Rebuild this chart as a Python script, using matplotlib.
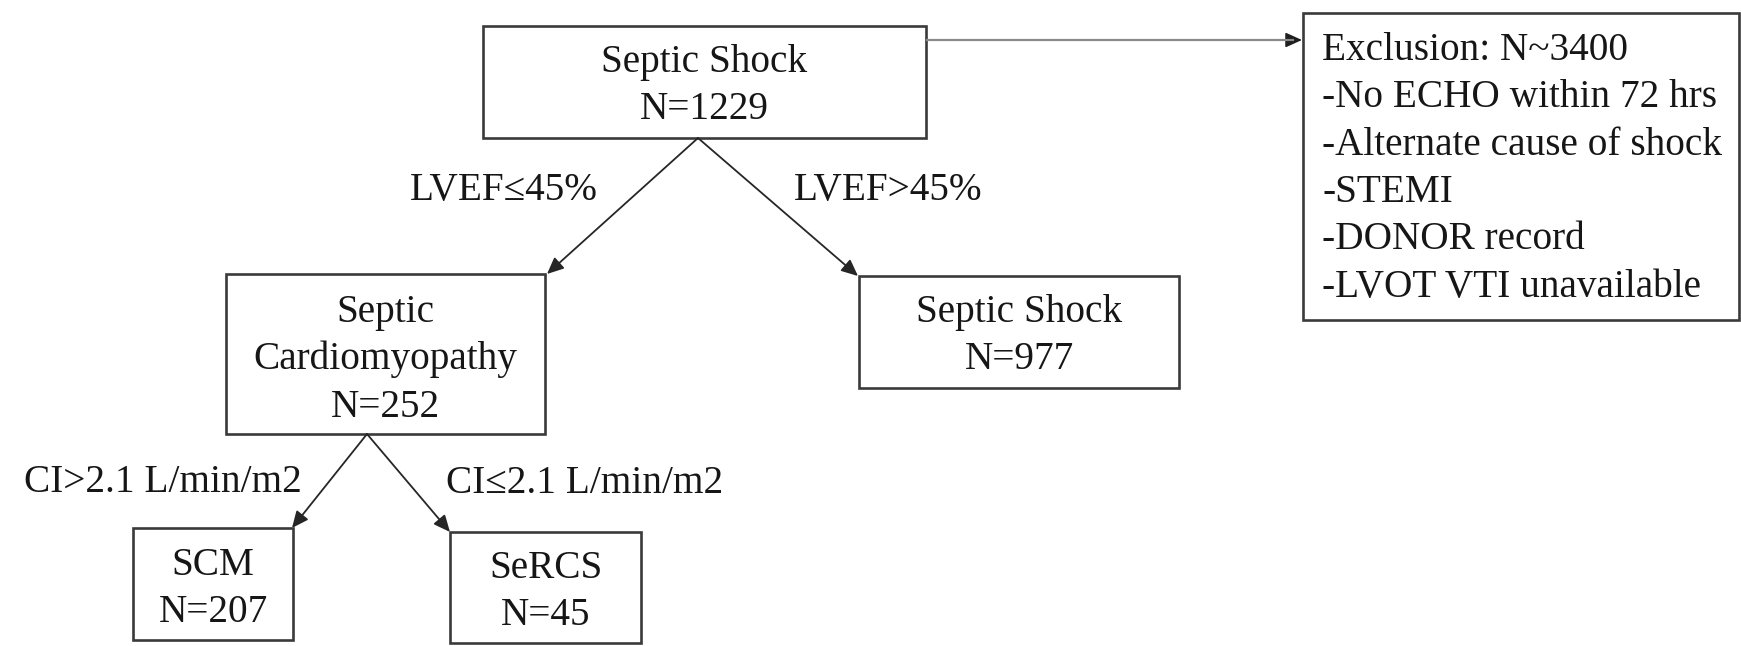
import matplotlib
matplotlib.use("Agg")
import matplotlib.pyplot as plt
from matplotlib.patches import Rectangle, FancyArrowPatch

# ---- content ----
top_lines = ["Septic Shock", "N=1229"]
cardio_lines = ["Septic", "Cardiomyopathy", "N=252"]
shock_lines = ["Septic Shock", "N=977"]
scm_lines = ["SCM", "N=207"]
sercs_lines = ["SeRCS", "N=45"]
excl_lines = ["Exclusion: N~3400", "-No ECHO within 72 hrs", "-Alternate cause of shock",
              "-STEMI", "-DONOR record", "-LVOT VTI unavailable"]
branch_labels = ["LVEF\u226445%", "LVEF>45%", "CI>2.1 L/min/m2", "CI\u22642.1 L/min/m2"]

W, H = 1741, 646
fig = plt.figure(figsize=(W / 100, H / 100), dpi=100)
ax = fig.add_axes([0, 0, 1, 1])
ax.set_xlim(0, W)
ax.set_ylim(H, 0)
ax.axis("off")

FONT = ["Liberation Serif", "DejaVu Serif"]
FS = 28.3
TXT = "#161616"
EDGE = "#3a3a3a"
LS = 47.3


def box(x0, y0, x1, y1, lines, first_base, align="center", tx=None):
    ax.add_patch(Rectangle((x0, y0), x1 - x0, y1 - y0, fill=False,
                           edgecolor=EDGE, linewidth=1.9))
    cx = (x0 + x1) / 2 if tx is None else tx
    for i, s in enumerate(lines):
        ax.text(cx, first_base + i * LS, s, ha=align, va="baseline",
                fontsize=FS, family=FONT, color=TXT)


def arrow(p0, p1, color="#262626", lw=1.3):
    ax.add_patch(FancyArrowPatch(p0, p1, arrowstyle="-|>,head_length=10,head_width=4.5",
                                 mutation_scale=1, color=color, linewidth=lw,
                                 shrinkA=0, shrinkB=0))


box(483, 26, 926, 138, top_lines, 72)
box(226, 274, 545, 434, cardio_lines, 322)
box(859, 276, 1179, 388, shock_lines, 322)
box(133, 528, 293, 640, scm_lines, 575)
box(450, 532, 641, 643, sercs_lines, 578)
box(1303, 13, 1739, 320, excl_lines, 60, align="left", tx=1322)

arrow((698, 138), (547, 274))
arrow((698, 138), (858, 276))
arrow((367, 434), (292, 528))
arrow((367, 434), (450, 532))
ax.plot([926, 1294], [40, 40], color="#8a8a8a", linewidth=1.6, solid_capstyle="butt")
arrow((1288, 40), (1302, 40), color="#1e1e1e", lw=1.2)

label_pos = [(410, 200, "left"), (794, 200, "left"), (24, 492, "left"), (446, 493, "left")]
for s, (x, y, a) in zip(branch_labels, label_pos):
    ax.text(x, y, s, ha=a, va="baseline", fontsize=FS, family=FONT, color=TXT)

fig.savefig("out.png", dpi=100, facecolor="white")
